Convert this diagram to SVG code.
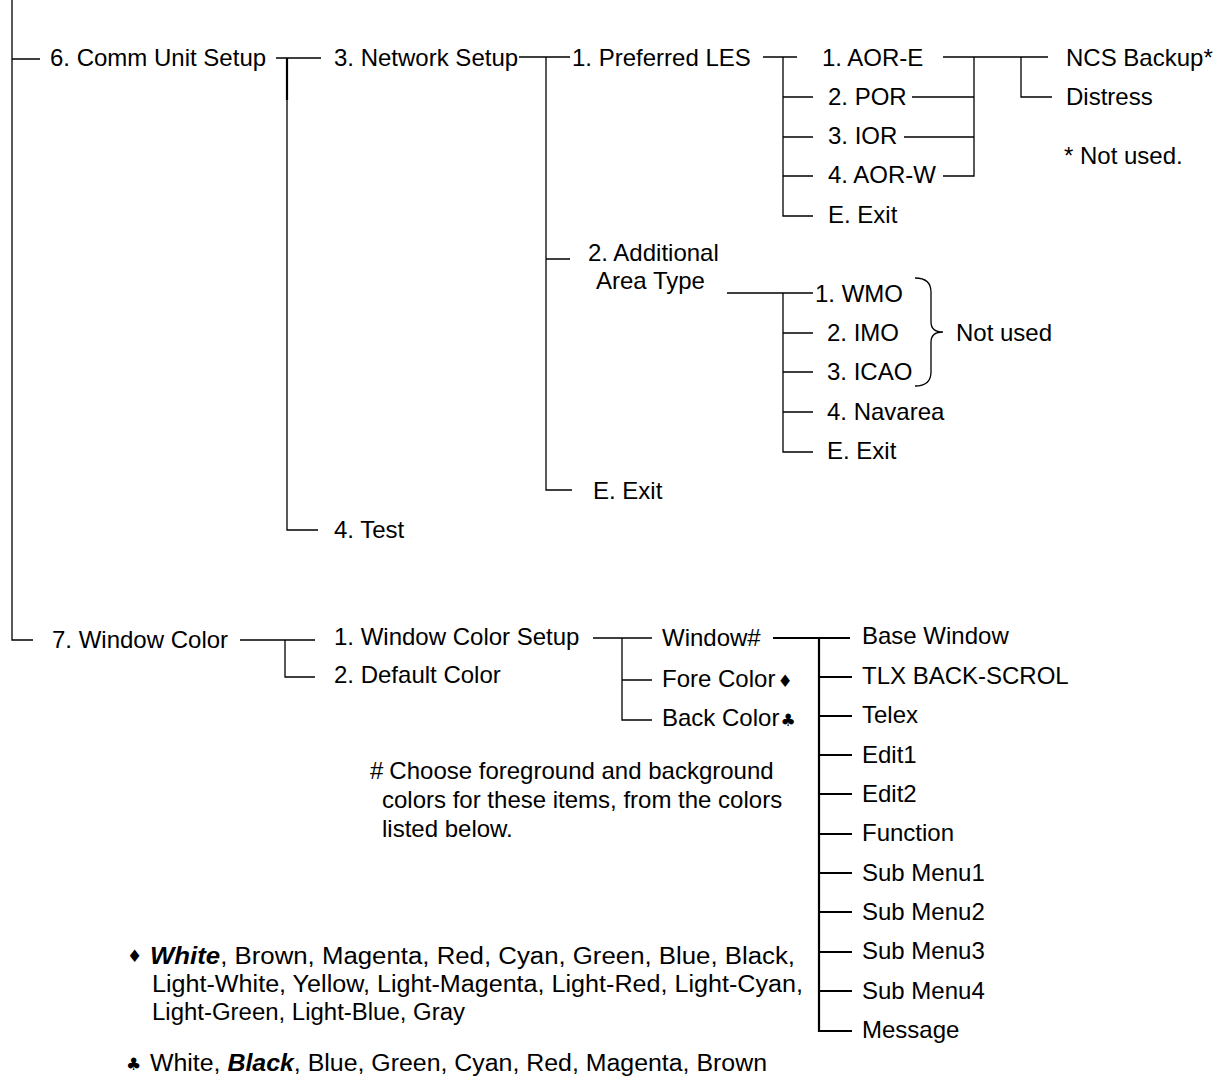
<svg xmlns="http://www.w3.org/2000/svg" width="1225" height="1082" viewBox="0 0 1225 1082">
<style>
text{font-family:"Liberation Sans",Arial,"DejaVu Sans",sans-serif;font-size:24px;fill:#000}
.c{fill:none;stroke:#000;stroke-width:1.3}
.t{fill:none;stroke:#000;stroke-width:2.2}
.sym{font-family:"DejaVu Sans",sans-serif;font-size:17px}
.bi{font-weight:bold;font-style:italic}
.n{font-size:23px}
</style>
<rect width="1225" height="1082" fill="#fff"/>
<g id="connectors">
<path class="c" d="M12,0 V640 H33 M12,59 H40"/>
<path class="c" d="M276,58 H321 M287,58 V530 H318"/>
<path class="t" d="M287,58 V100"/>
<path class="c" d="M519,57 H570 M546,57 V490 H572 M546,259 H570"/>
<path class="c" d="M763,57 H797 M783,57 V216 H813 M783,97 H813 M783,137 H813 M783,176 H813"/>
<path class="c" d="M943,57 H1048 M974,57 V176 H943 M912,97 H974 M904,137 H974 M1021,57 V97 H1052"/>
<path class="c" d="M727,293 H813 M783,293 V452 H813 M783,333 H813 M783,372 H813 M783,412 H813"/>
<path class="c" d="M915,278 Q931,278 931,292 L931,322 Q931,332 943,332 Q931,332 931,342 L931,372 Q931,386 915,386"/>
<path class="c" d="M240,640 H315 M285,640 V677 H315"/>
<path class="c" d="M593,638 H652 M622,638 V720 H652 M622,680 H652"/>
<path class="t" d="M773,638 H850 M819,638 V1031 H852 M819,677 H852 M819,716 H852 M819,755 H852 M819,794 H852 M819,834 H852 M819,873 H852 M819,912 H852 M819,952 H852 M819,991 H852"/>
</g>
<g id="n-comm"><text x="50" y="66">6. Comm Unit Setup</text></g>
<g id="n-network"><text x="334" y="66">3. Network Setup</text></g>
<g id="n-les"><text x="572" y="66">1. Preferred LES</text></g>
<g id="n-aore"><text x="822" y="66">1. AOR-E</text></g>
<g id="n-por"><text x="828" y="105">2. POR</text></g>
<g id="n-ior"><text x="828" y="144">3. IOR</text></g>
<g id="n-aorw"><text x="828" y="183">4. AOR-W</text></g>
<g id="n-exit1"><text x="828" y="223">E. Exit</text></g>
<g id="n-ncs"><text x="1066" y="66">NCS Backup*</text></g>
<g id="n-distress"><text x="1066" y="105">Distress</text></g>
<g id="n-notused1"><text x="1064" y="164">* Not used.</text></g>
<g id="n-area"><text x="588" y="261">2. Additional</text><text x="596" y="289">Area Type</text></g>
<g id="n-wmo"><text x="815" y="302">1. WMO</text></g>
<g id="n-imo"><text x="827" y="341">2. IMO</text></g>
<g id="n-icao"><text x="827" y="380">3. ICAO</text></g>
<g id="n-navarea"><text x="827" y="420">4. Navarea</text></g>
<g id="n-exit2"><text x="827" y="459">E. Exit</text></g>
<g id="n-notused2"><text x="956" y="341">Not used</text></g>
<g id="n-exit3"><text x="593" y="499">E. Exit</text></g>
<g id="n-test"><text x="334" y="538">4. Test</text></g>
<g id="n-wincolor"><text x="52" y="648">7. Window Color</text></g>
<g id="n-wcsetup"><text x="334" y="645">1. Window Color Setup</text></g>
<g id="n-default"><text x="334" y="683">2. Default Color</text></g>
<g id="n-windowno"><text x="662" y="646">Window#</text></g>
<g id="n-fore"><text x="662" y="687">Fore Color<tspan class="sym" dx="2">♦</tspan></text></g>
<g id="n-back"><text x="662" y="726">Back Color<tspan class="sym" dx="1">♣</tspan></text></g>
<g id="n-items">
<text x="862" y="644">Base Window</text>
<text x="862" y="684">TLX BACK-SCROL</text>
<text x="862" y="723">Telex</text>
<text x="862" y="763">Edit1</text>
<text x="862" y="802">Edit2</text>
<text x="862" y="841">Function</text>
<text x="862" y="881">Sub Menu1</text>
<text x="862" y="920">Sub Menu2</text>
<text x="862" y="959">Sub Menu3</text>
<text x="862" y="999">Sub Menu4</text>
<text x="862" y="1038">Message</text>
</g>
<g id="note-hash">
<text x="370" y="779">#<tspan dx="6">Choose foreground and background</tspan></text>
<text x="382" y="808">colors for these items, from the colors</text>
<text x="382" y="837">listed below.</text>
</g>
<g id="note-fore">
<text class="sym" x="127" y="962">♦</text>
<text class="n" x="150" y="964" textLength="645" lengthAdjust="spacingAndGlyphs"><tspan class="bi">White</tspan>, Brown, Magenta, Red, Cyan, Green, Blue, Black,</text>
<text class="n" x="152" y="992" textLength="651" lengthAdjust="spacingAndGlyphs">Light-White, Yellow, Light-Magenta, Light-Red, Light-Cyan,</text>
<text class="n" x="152" y="1020" textLength="313" lengthAdjust="spacingAndGlyphs">Light-Green, Light-Blue, Gray</text>
</g>
<g id="note-back">
<text class="sym" x="126" y="1070">♣</text>
<text class="n" x="150" y="1071" textLength="617" lengthAdjust="spacingAndGlyphs">White, <tspan class="bi">Black</tspan>, Blue, Green, Cyan, Red, Magenta, Brown</text>
</g>
</svg>
